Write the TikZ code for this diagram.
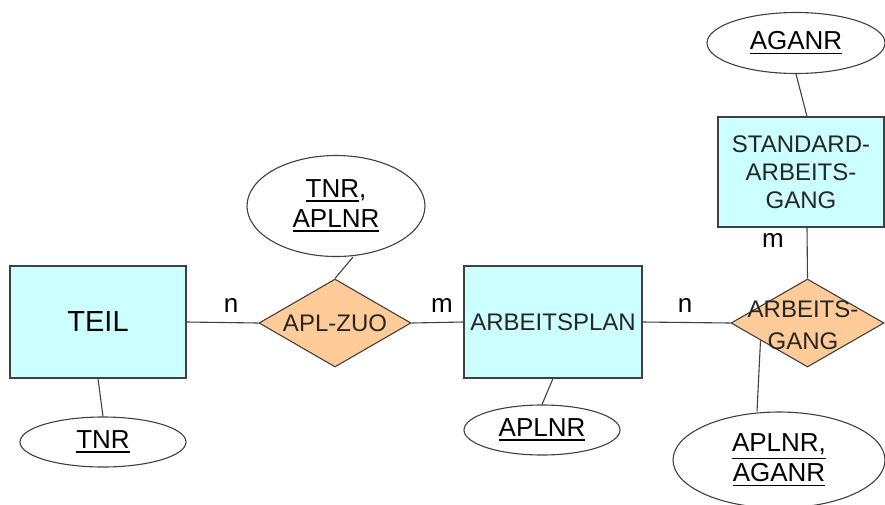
\documentclass[tikz,border=0pt]{standalone}
\usepackage{fontspec}
\setmainfont{Liberation Sans}
\usetikzlibrary{shapes.geometric,calc}
\definecolor{entfill}{HTML}{CCFFFF}
\definecolor{relfill}{HTML}{FFCC99}
\definecolor{linegray}{HTML}{404040}
\newcommand\ulx[1]{\leavevmode\vtop{\hbox{#1}\kern2.5pt\hrule height 1.5pt}}
\begin{document}
\begin{tikzpicture}[x=1pt,y=-1pt,
 ent/.style={draw=linegray,fill=entfill,line width=1.1pt,inner sep=0pt,align=center},
 rel/.style={diamond,draw=linegray,fill=relfill,line width=1.1pt,inner sep=0pt},
 attr/.style={ellipse,draw=linegray,fill=white,line width=1.1pt,inner sep=0pt,align=center,font=\fontsize{26}{30}\selectfont},
 conn/.style={draw=linegray,line width=1.1pt},
 card/.style={font=\fontsize{26}{26}\selectfont,inner sep=0pt},
 lbl/.style={font=\fontsize{24}{32}\selectfont,inner sep=0pt,align=center,text=black!85}
]
\useasboundingbox[fill=white] (0,0) rectangle (885,504);
% entities
\node[ent,minimum width=176pt,minimum height=112pt,font=\fontsize{29}{29}\selectfont] (teil) at (98,322) {TEIL};
\node[ent,minimum width=178pt,minimum height=112pt,font=\fontsize{24}{24}\selectfont,text=black!85] (plan) at (553,322) {ARBEITSPLAN};
\node[ent,minimum width=166pt,minimum height=110pt,font=\fontsize{24}{28}\selectfont,text=black!85] (std) at (801,172) {STANDARD-\\ARBEITS-\\GANG};
% relationships
\node[rel,minimum width=152pt,minimum height=88pt] (zuo) at (335,323) {};
\node[lbl] (zuot) at (335,323) {APL-ZUO};
\node[rel,minimum width=153pt,minimum height=88pt] (ag) at (807.5,323) {};
\node[lbl] (agt) at (803,325) {ARBEITS-\\GANG};
% attributes
\node[attr,minimum width=166pt,minimum height=50pt] (tnr) at (103,442) {\ulx{TNR}};
\node[attr,minimum width=178pt,minimum height=101pt] (zuoattr) at (336,206) {\ulx{TNR},\\\ulx{APLNR}};
\node[attr,minimum width=156pt,minimum height=50pt] (aplnr) at (542,430) {\ulx{APLNR}};
\node[attr,minimum width=178pt,minimum height=61pt] (aganr) at (796,43) {\ulx{AGANR}};
\node[attr,minimum width=212pt,minimum height=96pt] (agattr) at (779,460) {\ulx{APLNR,}\\\ulx{AGANR}};
% connectors
\draw[conn] (teil.east) -- (zuo.west);
\draw[conn] (zuo.east) -- (plan.west);
\draw[conn] (plan.east) -- (ag.west);
\draw[conn] ([xshift=6pt]std.south) -- (ag.north);
\draw[conn] (teil.south) -- (tnr.north);
\draw[conn] ([xshift=17pt]zuoattr.south) -- (zuo.north);
\draw[conn] (plan.south) -- (aplnr.north);
\draw[conn] (aganr.south) -- ([xshift=6pt]std.north);
\coordinate (agp) at ($(ag.west)!0.39!(ag.south)$);
\draw[conn] (agp) -- ([xshift=-22pt]agattr.north);
% cardinalities
\node[card] (c1) at (231,305) {n};
\node[card] (c2) at (442,305) {m};
\node[card] (c3) at (685,305) {n};
\node[card] (c4) at (773,240) {m};
\end{tikzpicture}
\end{document}
